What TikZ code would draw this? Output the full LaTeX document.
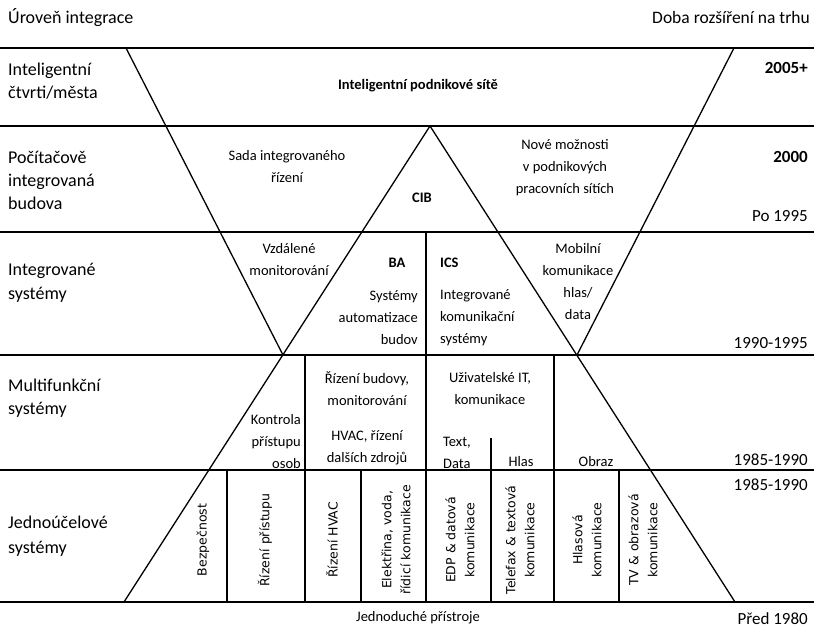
\documentclass[tikz,border=0pt]{standalone}
\usepackage{fontspec}
\setmainfont{Carlito}
\newfontfamily\rotfont{DejaVu Sans}

\begin{document}
\begin{tikzpicture}[x=1pt,y=-1pt,
  rule/.style={line width=1.8pt},
  edge/.style={line width=1.3pt},
  lbl/.style={font=\fontsize{18}{23}\selectfont, anchor=base west, inner sep=0pt},
  yr/.style={font=\fontsize{17}{23}\selectfont, anchor=base east, inner sep=0pt},
  txt/.style={font=\fontsize{14.5}{22}\selectfont, align=center, inner sep=0pt},
  vtxt/.style={font=\rotfont\fontsize{12.5}{19}\selectfont, rotate=90, align=center, inner sep=0pt}]
\useasboundingbox (0,0) rectangle (814,631);

% key points of the two triangles
\coordinate (apex) at (430,126);
\coordinate (baseL) at (124,602);
\coordinate (baseR) at (735,602);
\coordinate (topL) at (126,48);
\coordinate (topR) at (734,48);
\coordinate (vL) at (283,355);
\coordinate (vR) at (577,355);

% level separators
\foreach \yy in {48,126,232,355,470,602}
  \draw[rule] (0,\yy) -- (814,\yy);

% upright and inverted triangles
\draw[edge] (baseL) -- (apex) -- (baseR);
\draw[edge] (topL) -- (vL);
\draw[edge] (topR) -- (vR);

% column dividers
\draw[edge] (426,232) -- (426,602);
\draw[edge] (305,355) -- (305,602);
\draw[edge] (554,355) -- (554,602);
\draw[edge] (491,438) -- (491,602);
\draw[edge] (227,470) -- (227,602);
\draw[edge] (361,470) -- (361,602);
\draw[edge] (619,470) -- (619,602);

% headings
\node[lbl] (hl) at (8,24) {Úroveň integrace};
\node[yr,font=\fontsize{17.5}{23}\selectfont] (hr) at (810,24) {Doba rozšíření na trhu};

% level names
\node[lbl] (l1a) at (8,76) {Inteligentní};
\node[lbl] (l1b) at (8,99) {čtvrti/města};
\node[lbl] (l2a) at (8,164) {Počítačově};
\node[lbl] (l2b) at (8,187) {integrovaná};
\node[lbl] (l2c) at (8,210) {budova};
\node[lbl] (l3a) at (8,276) {Integrované};
\node[lbl] (l3b) at (8,299) {systémy};
\node[lbl] (l4a) at (8,391) {Multifunkční};
\node[lbl] (l4b) at (8,414) {systémy};
\node[lbl] (l5a) at (8,528) {Jednoúčelové};
\node[lbl] (l5b) at (8,553) {systémy};

% periods
\node[yr,font=\bfseries\fontsize{17}{23}\selectfont] (y1) at (808,74) {2005+};
\node[yr,font=\bfseries\fontsize{17}{23}\selectfont] (y2) at (808,163) {2000};
\node[yr] (y3) at (808,222) {Po 1995};
\node[yr] (y4) at (808,348) {1990-1995};
\node[yr] (y5) at (808,465) {1985-1990};
\node[yr] (y6) at (808,490) {1985-1990};
\node[yr] (y7) at (808,624) {Před 1980};

% contents of the levels
\node[txt,font=\bfseries\fontsize{14.5}{22}\selectfont] (ips) at (418,86) {Inteligentní podnikové sítě};
\node[txt] (sir) at (287,167) {Sada integrovaného\\řízení};
\node[txt,font=\bfseries\fontsize{14.5}{22}\selectfont] (cib) at (422,198) {CIB};
\node[txt] (nm) at (565,168) {Nové možnosti\\v podnikových\\pracovních sítích};
\node[txt] (vm) at (289,260) {Vzdálené\\monitorování};
\node[txt,font=\bfseries\fontsize{14.5}{22}\selectfont] (ba) at (397,263) {BA};
\node[txt,align=right,anchor=east] (sab) at (418,318) {Systémy\\automatizace\\budov};
\node[txt,font=\bfseries\fontsize{14.5}{22}\selectfont,anchor=west] (ics) at (440,263) {ICS};
\node[txt,align=left,anchor=west] (iks) at (440,318) {Integrované\\komunikační\\systémy};
\node[txt] (mk) at (578,282) {Mobilní\\komunikace\\hlas/\\data};
\node[txt] (rb) at (367,389) {Řízení budovy,\\monitorování};
\node[txt] (hv) at (367,448) {HVAC, řízení\\dalších zdrojů};
\node[txt,align=right,anchor=east] (kp) at (301,442) {Kontrola\\přístupu\\osob};
\node[txt] (ui) at (490,389) {Uživatelské IT,\\komunikace};
\node[txt,align=left,anchor=west] (td) at (443,453) {Text,\\Data};
\node[txt] (hl2) at (521,462) {Hlas};
\node[txt] (ob) at (596,462) {Obraz};

% single-purpose systems
\node[vtxt] (v1) at (203,540) {Bezpečnost};
\node[vtxt] (v2) at (265,540) {Řízení přístupu};
\node[vtxt] (v3) at (332,540) {Řízení HVAC};
\node[vtxt] (v4) at (396,540) {Elektřina, voda,\\řídicí komunikace};
\node[vtxt] (v5) at (460,540) {EDP \& datová\\komunikace};
\node[vtxt] (v6) at (520,540) {Telefax \& textová\\komunikace};
\node[vtxt] (v7) at (587,540) {Hlasová\\komunikace};
\node[vtxt] (v8) at (643,540) {TV \& obrazová\\komunikace};

\node[txt] (jp) at (418,618) {Jednoduché přístroje};
\end{tikzpicture}
\end{document}
